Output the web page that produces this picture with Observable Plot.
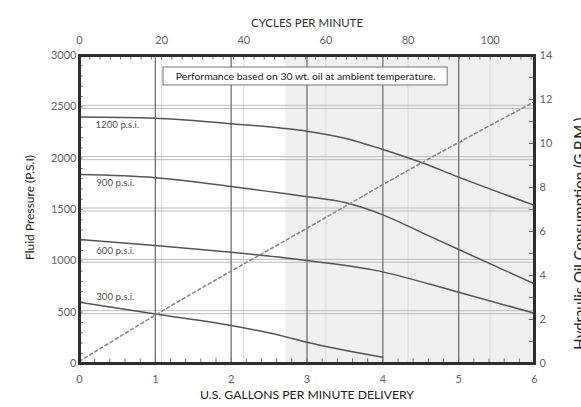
<!DOCTYPE html>
<html>
<head>
<meta charset="utf-8">
<script src="https://cdn.jsdelivr.net/npm/d3@7"></script>
<script src="https://cdn.jsdelivr.net/npm/@observablehq/plot@0.6"></script>
<style>
  html, body { margin: 0; padding: 0; background: #fff; }
  #chart { width: 581px; height: 407px; overflow: hidden; }
</style>
</head>
<body>
<div id="chart"></div>
<script>
// ---- data ----
const gpmTicks = [0, 1, 2, 3, 4, 5, 6];               // bottom axis (U.S. GPM delivery)
const psiTicks = [0, 500, 1000, 1500, 2000, 2500, 3000]; // left axis
const cycleTicks = [0, 20, 40, 60, 80, 100];           // top axis
const cyclesAtMaxFlow = 110.8;                         // cycles/min at 6 GPM
const oilTicks = [0, 2, 4, 6, 8, 10, 12, 14];          // right axis (G.P.M.)
const oilMax = 14;

const curve1200 = [[0, 2400], [1, 2390], [2, 2335], [2.7, 2290], [3, 2263], [3.5, 2195], [4, 2085], [4.5, 1960], [5, 1815], [6, 1540]];
const curve900  = [[0, 1840], [1, 1810], [2, 1725], [2.7, 1655], [3, 1625], [3.5, 1568], [4, 1448], [4.5, 1280], [5, 1110], [6, 776]];
const curve600  = [[0, 1208], [1, 1150], [2, 1084], [2.7, 1030], [3, 1003], [3.87, 912], [5, 694], [6, 490]];
const curve300  = [[0, 597], [1, 483], [2, 370], [2.65, 273], [3, 207], [4, 61]];
const oilConsumption = [[0, 0.1], [1, 2.2], [3, 6.15], [4.5, 9.1], [6, 11.9]]; // dotted line, right axis units

const curveLabels = ["1200 p.s.i.", "900 p.s.i.", "600 p.s.i.", "300 p.s.i."];
const curveLabelX = [0.21, 0.22, 0.22, 0.22];
const curveLabelY = [2328, 1763, 1094, 646];

const shadedFrom = 2.72;                               // shaded band start (GPM)
const note = "Performance based on 30 wt. oil at ambient temperature.";
const noteBox = {x1: 1.108, x2: 4.855, y1: 2708, y2: 2883};

// ---- helpers mapping secondary scales into primary data units ----
const cycToGpm = c => c * 6 / cyclesAtMaxFlow;
const oilToPsi = v => v * 3000 / oilMax;

const minorX = d3.range(0, 6.001, 0.2);
const minorTop = d3.range(0, cyclesAtMaxFlow, 2.5).map(cycToGpm);
const minorY = d3.range(0, 3001, 100);
const minorRight = d3.range(0, oilMax + 0.001, 1).map(oilToPsi);

const lineRows = (arr) => arr.map(([x, y]) => ({x, y}));

const font = "Lato, 'Open Sans', sans-serif";

const chart = Plot.plot({
  width: 581,
  height: 407,
  marginLeft: 79,
  marginRight: 47,
  marginTop: 55,
  marginBottom: 44,
  x: {domain: [0, 6]},
  y: {domain: [0, 3000]},
  style: {fontFamily: font, fontSize: "11px", color: "#555", background: "#fff"},
  marks: [
    // shaded region
    Plot.rect([shadedFrom], {x1: d => d, x2: 6, y1: 0, y2: 3000, fill: "#eff0ef"}),
    // faint cycle grid lines
    Plot.ruleX(cycleTicks.slice(1).map(cycToGpm), {stroke: "#d9d9d9", strokeWidth: 1}),
    // double horizontal grid
    Plot.ruleY(psiTicks.slice(1, -1), {stroke: "#bcbcbc", strokeWidth: 1, dy: -1.5}),
    Plot.ruleY(psiTicks.slice(1, -1), {stroke: "#bcbcbc", strokeWidth: 1, dy: 1.5}),
    // vertical GPM grid
    Plot.ruleX(gpmTicks.slice(1, -1), {stroke: "#727272", strokeWidth: 1.3}),
    // note box
    Plot.rect([noteBox], {x1: "x1", x2: "x2", y1: "y1", y2: "y2", fill: "#fff", stroke: "#777", strokeWidth: 1}),
    Plot.text([note], {x: (noteBox.x1 + noteBox.x2) / 2, y: (noteBox.y1 + noteBox.y2) / 2, text: d => d, fontSize: 10.4, fill: "#222"}),
    // curves
    Plot.line(lineRows(curve1200), {x: "x", y: "y", stroke: "#555", strokeWidth: 1.5, curve: "monotone-x"}),
    Plot.line(lineRows(curve900), {x: "x", y: "y", stroke: "#555", strokeWidth: 1.5, curve: "monotone-x"}),
    Plot.line(lineRows(curve600), {x: "x", y: "y", stroke: "#555", strokeWidth: 1.5, curve: "monotone-x"}),
    Plot.line(lineRows(curve300), {x: "x", y: "y", stroke: "#555", strokeWidth: 1.5, curve: "monotone-x"}),
    // oil consumption dotted
    Plot.line(oilConsumption.map(([x, v]) => ({x, y: oilToPsi(v)})), {x: "x", y: "y", stroke: "#8a8a8a", strokeWidth: 1.6, strokeDasharray: "3,3", curve: "monotone-x"}),
    // curve labels
    Plot.text(curveLabels, {x: (d, i) => curveLabelX[i], y: (d, i) => curveLabelY[i], text: d => d, textAnchor: "start", fontSize: 9.7, fill: "#555"}),
    // minor inner ticks
    Plot.ruleX(minorX, {y1: 0, y2: 45, stroke: "#777", strokeWidth: 1}),
    Plot.ruleX(minorTop, {y1: 3000, y2: 2955, stroke: "#777", strokeWidth: 1}),
    Plot.ruleY(minorY, {x1: 0, x2: 0.05, stroke: "#777", strokeWidth: 1}),
    Plot.ruleY(minorRight, {x1: 6, x2: 5.93, stroke: "#777", strokeWidth: 1}),
    // frame
    Plot.frame({stroke: "#2e2e2e", strokeWidth: 3}),
    // axes
    Plot.axisX({anchor: "bottom", ticks: gpmTicks, tickSize: 0, tickPadding: 12, label: null, fill: "#666", fontSize: 11, tickFormat: d3.format("d")}),
    Plot.axisY({anchor: "left", ticks: psiTicks, tickSize: 0, tickPadding: 3, label: null, fill: "#666", fontSize: 11, tickFormat: d3.format("d")}),
    Plot.axisX({anchor: "top", ticks: cycleTicks.map(cycToGpm), tickSize: 0, tickPadding: 12, label: null, fill: "#666", fontSize: 11, tickFormat: d => Math.round(d * cyclesAtMaxFlow / 6)}),
    Plot.axisY({anchor: "right", ticks: oilTicks.map(oilToPsi), tickSize: 0, tickPadding: 5, label: null, fill: "#666", fontSize: 11, tickFormat: d => Math.round(d * oilMax / 3000)}),
    // axis titles
    Plot.text(["CYCLES PER MINUTE"], {frameAnchor: "top", text: d => d, dy: -37, fontSize: 11.5, fill: "#333"}),
    Plot.text(["U.S. GALLONS PER MINUTE DELIVERY"], {frameAnchor: "bottom", text: d => d, dy: 35, fontSize: 12.2, fill: "#222"}),
    Plot.text(["Fluid Pressure (P.S.I)"], {frameAnchor: "left", text: d => d, textAnchor: "middle", rotate: -90, dx: -49, dy: -2, fontSize: 12, fill: "#222"}),
    Plot.text(["Hydraulic Oil Consumption (G.P.M.)"], {frameAnchor: "right", text: d => d, textAnchor: "middle", rotate: -90, dx: 46, dy: 24, fontSize: 15, fill: "#222"})
  ]
});
document.getElementById("chart").appendChild(chart);
</script>
</body>
</html>
